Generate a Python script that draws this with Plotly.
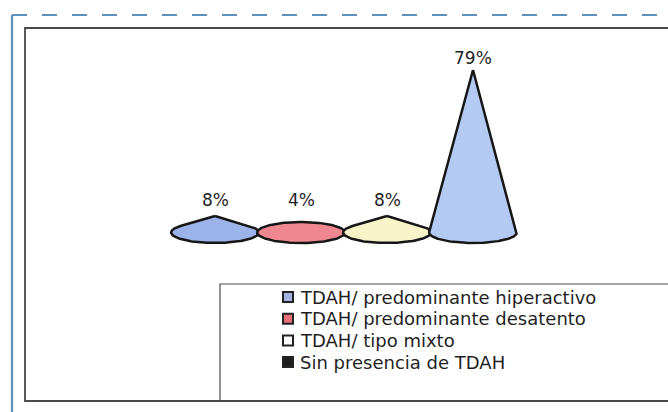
import numpy as np
import plotly.graph_objects as go

# ---- data ----
categories = ["TDAH/ predominante hiperactivo", "TDAH/ predominante desatento",
              "TDAH/ tipo mixto", "Sin presencia de TDAH"]
values = [8, 4, 8, 79]
labels = ["8%", "4%", "8%", "79%"]
cone_colors = ["#9cb3ea", "#ef8790", "#f8f3c9", "#b3cbf2"]
legend_colors = ["#a4b3e2", "#e66e7b", "#ffffff", "#1e1e1e"]

W, H = 668, 412
FONT = "DejaVu Sans"
TXT = "#1f1f1f"

# cone base ellipse half-axes (category units, percent units)
A_RX = 0.51
B_RY = 5.1


def cone_outline(x0, h, a, b, n=160):
    Hn = h / b
    if Hn <= 1.0:
        t = np.linspace(0, 2 * np.pi, n)
        return list(x0 + a * np.cos(t)), list(b * np.sin(t))
    ts = np.arcsin(1.0 / Hn)
    t = np.linspace(ts, -np.pi - ts, n)
    xs = [x0] + list(x0 + a * np.cos(t)) + [x0]
    ys = [h] + list(b * np.sin(t)) + [h]
    return xs, ys


fig = go.Figure()
for i, v in enumerate(values):
    xs, ys = cone_outline(i, v, A_RX, B_RY)
    fig.add_trace(go.Scatter(x=xs, y=ys, mode="lines", fill="toself",
                             fillcolor=cone_colors[i],
                             line=dict(color="#161616", width=2.5),
                             hoverinfo="skip", showlegend=False))

for i, (v, lab) in enumerate(zip(values, labels)):
    fig.add_annotation(x=i, y=max(v, 2 * B_RY), text=lab, showarrow=False,
                       yanchor="middle", yshift=12,
                       font=dict(family=FONT, size=17, color=TXT))


def px(xp):
    return xp / W


def py(yp):
    return 1 - yp / H


shapes = []
# outer dashed scan frame
shapes.append(dict(type="line", xref="paper", yref="paper", x0=px(12), x1=px(700),
                   y0=py(15), y1=py(15), line=dict(color="#5f8fba", width=2.2, dash="longdash")))
shapes.append(dict(type="line", xref="paper", yref="paper", x0=px(12), x1=px(12),
                   y0=py(15), y1=py(412), line=dict(color="#5f8fba", width=2.2)))
# chart area frame
shapes.append(dict(type="rect", xref="paper", yref="paper", x0=px(25), x1=px(720),
                   y0=py(401), y1=py(28), line=dict(color="#4a4a4a", width=1.8)))
# legend frame
shapes.append(dict(type="rect", xref="paper", yref="paper", x0=px(220), x1=px(720),
                   y0=py(401), y1=py(284), line=dict(color="#4a4a4a", width=1.2),
                   fillcolor="rgba(0,0,0,0)"))

# manual legend
row0, step = 297, 21.7
for i, (cat, col) in enumerate(zip(categories, legend_colors)):
    yc = row0 + i * step
    shapes.append(dict(type="rect", xref="paper", yref="paper",
                       x0=px(283), x1=px(293), y0=py(yc + 5), y1=py(yc - 5),
                       fillcolor=col, line=dict(color="#222222", width=2)))
    fig.add_annotation(xref="paper", yref="paper", x=px(298), y=py(yc), text=cat,
                       showarrow=False, xanchor="left", yanchor="middle",
                       font=dict(family=FONT, size=18, color=TXT))

fig.update_layout(
    width=W, height=H,
    margin=dict(l=0, r=0, t=0, b=0),
    paper_bgcolor="white", plot_bgcolor="white",
    shapes=shapes,
    xaxis=dict(range=[-215 / 86, (W - 215) / 86], visible=False, fixedrange=True),
    yaxis=dict(range=[-(H - 232.5) / 2.057, 232.5 / 2.057], visible=False, fixedrange=True),
    showlegend=False,
)

fig.write_html("out.html", config={"displayModeBar": False},
               post_script="document.body.style.margin='0';document.body.style.overflow='hidden';")
